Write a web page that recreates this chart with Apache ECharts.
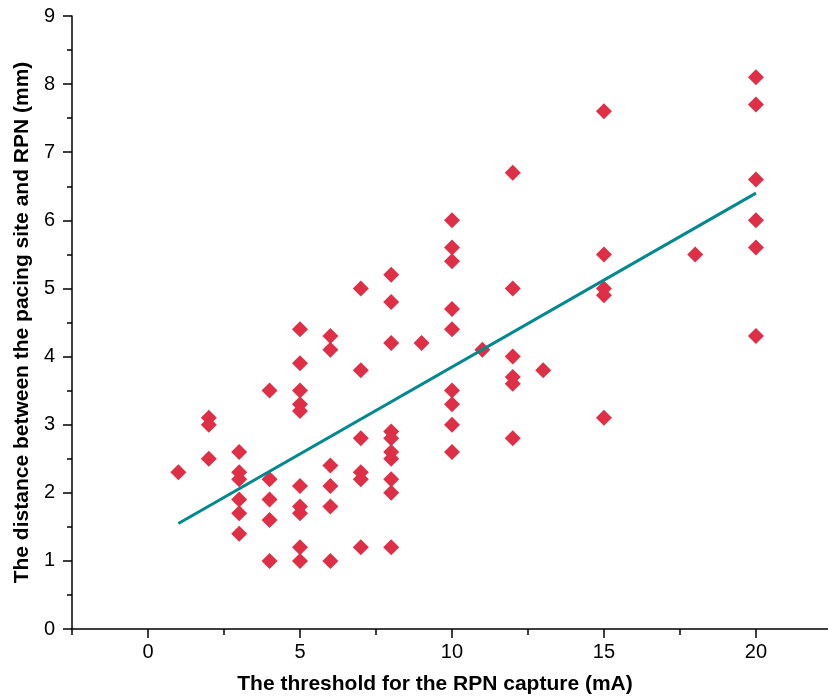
<!DOCTYPE html>
<html>
<head>
<meta charset="utf-8">
<title>RPN threshold vs distance</title>
<script src="https://cdn.jsdelivr.net/npm/echarts@6/dist/echarts.min.js"></script>
<style>
  html, body { margin: 0; padding: 0; background: #fff; }
  #chart { width: 828px; height: 700px; }
</style>
</head>
<body>
<div id="chart"></div>
<script>
// 数据：每个点的阈值 (mA) 与距离 (mm)
const thresholdMA = [
  1,
  2, 2, 2,
  3, 3, 3, 3, 3, 3,
  4, 4, 4, 4, 4,
  5, 5, 5, 5, 5, 5, 5, 5, 5, 5,
  6, 6, 6, 6, 6, 6,
  7, 7, 7, 7, 7, 7,
  8, 8, 8, 8, 8, 8, 8, 8, 8, 8,
  9,
  10, 10, 10, 10, 10, 10, 10, 10, 10,
  11,
  12, 12, 12, 12, 12, 12,
  13,
  15, 15, 15, 15, 15,
  18,
  20, 20, 20, 20, 20, 20
];
const distanceMM = [
  2.3,
  3.1, 3.0, 2.5,
  2.6, 2.3, 2.2, 1.9, 1.7, 1.4,
  3.5, 2.2, 1.9, 1.6, 1.0,
  4.4, 3.9, 3.5, 3.3, 3.2, 2.1, 1.8, 1.7, 1.2, 1.0,
  4.3, 4.1, 2.4, 2.1, 1.8, 1.0,
  5.0, 3.8, 2.8, 2.3, 2.2, 1.2,
  5.2, 4.8, 4.2, 2.9, 2.8, 2.6, 2.5, 2.2, 2.0, 1.2,
  4.2,
  6.0, 5.6, 5.4, 4.7, 4.4, 3.5, 3.3, 3.0, 2.6,
  4.1,
  6.7, 5.0, 4.0, 3.7, 3.6, 2.8,
  3.8,
  7.6, 5.5, 5.0, 4.9, 3.1,
  5.5,
  8.1, 7.7, 6.6, 6.0, 5.6, 4.3
];

// 拟合直线端点
const fitX = [1, 20];
const fitY = [1.55, 6.4];

// 刻度
const xMajorTicks = [0, 5, 10, 15, 20];
const xMinorTicks = [-2.5, 2.5, 7.5, 12.5, 17.5];

const chart = echarts.init(document.getElementById('chart'));

const scatterData = thresholdMA.map((x, i) => [x, distanceMM[i]]);
const fitData = fitX.map((x, i) => [x, fitY[i]]);

const axisFont = { fontFamily: 'Liberation Sans, Arial, sans-serif', color: '#000' };

const option = {
  backgroundColor: '#fff',
  animation: false,
  grid: { left: 72, top: 16, width: 756, height: 613 },
  xAxis: [
    {
      type: 'value',
      min: -2.5,
      max: 22.37,
      interval: 2.5,
      name: 'The threshold for the RPN capture (mA)',
      nameLocation: 'middle',
      nameGap: 45,
      nameTextStyle: Object.assign({ fontSize: 21, fontWeight: 'bold', padding: [0, 30, 0, 0] }, axisFont),
      axisLine: { onZero: false, lineStyle: { color: '#000', width: 1.5 } },
      axisTick: { customValues: xMajorTicks, length: 9, lineStyle: { color: '#000', width: 1.5 } },
      axisLabel: Object.assign({ customValues: xMajorTicks, fontSize: 20, margin: 13 }, axisFont),
      splitLine: { show: false }
    },
    {
      type: 'value',
      min: -2.5,
      max: 22.37,
      interval: 2.5,
      position: 'bottom',
      axisLine: { show: false, onZero: false },
      axisTick: { customValues: xMinorTicks, length: 6, lineStyle: { color: '#000', width: 1.5 } },
      axisLabel: { show: false },
      splitLine: { show: false }
    }
  ],
  yAxis: {
    type: 'value',
    min: 0,
    max: 9,
    interval: 1,
    name: 'The distance between the pacing site and RPN (mm)',
    nameLocation: 'middle',
    nameGap: 37,
    nameTextStyle: Object.assign({ fontSize: 21, fontWeight: 'bold' }, axisFont),
    axisLine: { show: true, onZero: false, lineStyle: { color: '#000', width: 1.5 } },
    axisTick: { show: true, length: 9, lineStyle: { color: '#000', width: 1.5 } },
    minorTick: { show: true, splitNumber: 2, length: 5, lineStyle: { color: '#000', width: 1.5 } },
    axisLabel: Object.assign({ fontSize: 20, margin: 17 }, axisFont),
    splitLine: { show: false }
  },
  series: [
    {
      name: 'points',
      type: 'scatter',
      xAxisIndex: 0,
      symbol: 'diamond',
      symbolSize: 16,
      itemStyle: { color: '#de2f47', opacity: 1 },
      data: scatterData
    },
    {
      name: 'fit',
      type: 'line',
      xAxisIndex: 0,
      symbol: 'none',
      lineStyle: { color: '#02888f', width: 3 },
      data: fitData
    }
  ]
};

chart.setOption(option);
</script>
</body>
</html>
